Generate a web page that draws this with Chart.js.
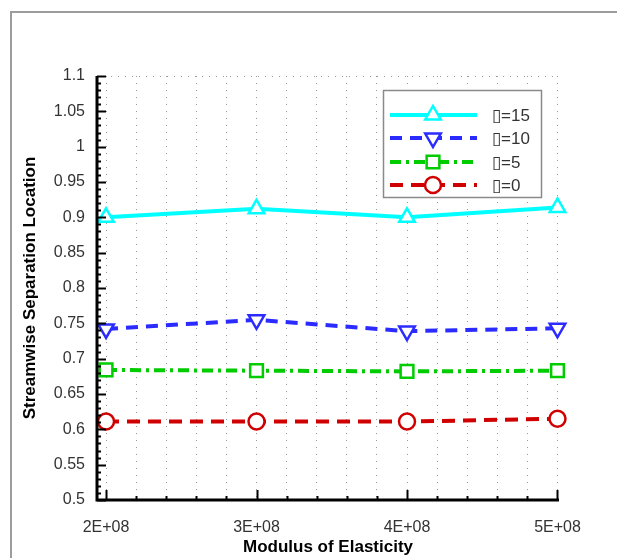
<!DOCTYPE html>
<html>
<head>
<meta charset="utf-8">
<script src="https://cdn.jsdelivr.net/npm/chart.js@4.4.0/dist/chart.umd.min.js"></script>
<style>
    html, body { margin: 0; padding: 0; background: #fff; overflow: hidden; }
    #frame { position: absolute; left: 10px; top: 11px; width: 700px; height: 700px;
             border-left: 2px solid #9c9c9c; border-top: 2px solid #9c9c9c; }
    #wrap { position: absolute; left: 0; top: 0; width: 617px; height: 558px; }
</style>
</head>
<body>
<div id="frame"></div>
<div id="wrap"><canvas id="chart" width="617" height="558"></canvas></div>
<script>
// 데이터
const xValues = [2e8, 3e8, 4e8, 5e8];
const xTickLabels = ['2E+08', '3E+08', '4E+08', '5E+08'];
const seriesNames = ['\u25AF=15', '\u25AF=10', '\u25AF=5', '\u25AF=0'];
const alpha15 = [0.900, 0.912, 0.900, 0.914];
const alpha10 = [0.742, 0.755, 0.739, 0.743];
const alpha5 = [0.684, 0.683, 0.682, 0.683];
const alpha0 = [0.611, 0.611, 0.611, 0.615];
const yTickValues = [0.5, 0.55, 0.6, 0.65, 0.7, 0.75, 0.8, 0.85, 0.9, 0.95, 1, 1.05, 1.1];
const yTickLabels = ['0.5', '0.55', '0.6', '0.65', '0.7', '0.75', '0.8', '0.85', '0.9', '0.95', '1', '1.05', '1.1'];

const X_MIN = 1.94e8, X_MAX = 5.01e8, X_MINOR = 0.2e8;
const Y_MIN = 0.5, Y_MAX = 1.1, Y_MINOR = 0.01;
const FONT = '"Liberation Sans", Arial, sans-serif';

function pts(values) {
    return values.map((v, i) => ({ x: xValues[i], y: v }));
}

const styles = [
    { color: '#00ffff', dash: [], style: 'triangle', rotation: 0, radius: 9 },
    { color: '#2b2bff', dash: [12, 8], style: 'triangle', rotation: 180, radius: 9 },
    { color: '#00cc00', dash: [11, 5, 3, 5], style: 'rect', rotation: 0, radius: 9 },
    { color: '#d10000', dash: [13, 8], style: 'circle', rotation: 0, radius: 8 }
];
const allSeries = [alpha15, alpha10, alpha5, alpha0];

const datasets = allSeries.map((s, i) => ({
    label: seriesNames[i],
    data: pts(s),
    borderColor: styles[i].color,
    borderWidth: 4,
    borderDash: styles[i].dash,
    pointStyle: styles[i].style,
    pointRotation: styles[i].rotation,
    pointRadius: styles[i].radius,
    pointBorderWidth: 2.5,
    pointBackgroundColor: '#ffffff',
    pointBorderColor: styles[i].color,
    tension: 0,
    fill: false,
    clip: false
}));

// 마커 그리기
function drawMarker(ctx, st, x, y) {
    ctx.save();
    ctx.setLineDash([]);
    ctx.lineWidth = 2.5;
    ctx.strokeStyle = st.color;
    ctx.fillStyle = '#fff';
    ctx.beginPath();
    const r = st.radius;
    if (st.style === 'circle') {
        ctx.arc(x, y, r, 0, Math.PI * 2);
    } else if (st.style === 'rect') {
        const h = r * Math.SQRT1_2;
        ctx.rect(x - h, y - h, h * 2, h * 2);
    } else {
        const dir = st.rotation === 180 ? -1 : 1;
        ctx.moveTo(x, y - dir * r);
        ctx.lineTo(x + r * 0.866, y + dir * r * 0.5);
        ctx.lineTo(x - r * 0.866, y + dir * r * 0.5);
        ctx.closePath();
    }
    ctx.fill();
    ctx.stroke();
    ctx.restore();
}

// 축선 + 눈금
const axesPlugin = {
    id: 'axesTicks',
    afterDatasetsDraw(chart) {
        const ctx = chart.ctx;
        const xs = chart.scales.x, ys = chart.scales.y;
        const a = chart.chartArea;
        ctx.save();
        ctx.strokeStyle = '#000';
        ctx.lineWidth = 2;
        for (let i = 0; ; i++) {
            const v = 2e8 + i * X_MINOR;
            if (v > X_MAX + 1) break;
            const px = Math.round(xs.getPixelForValue(v)) + 0.5;
            const major = i % 5 === 0;
            ctx.beginPath();
            ctx.moveTo(px, a.bottom);
            ctx.lineTo(px, a.bottom - (major ? 10 : 4));
            ctx.stroke();
        }
        for (let i = 0; i <= 60; i++) {
            const v = Y_MIN + i * Y_MINOR;
            const py = Math.round(ys.getPixelForValue(v)) + 0.5;
            const major = i % 5 === 0;
            ctx.beginPath();
            ctx.moveTo(a.left, py);
            ctx.lineTo(a.left + (major ? 9 : 4), py);
            ctx.stroke();
        }
        ctx.lineWidth = 3;
        ctx.beginPath();
        ctx.moveTo(a.left, a.top);
        ctx.lineTo(a.left, a.bottom);
        ctx.lineTo(a.right, a.bottom);
        ctx.stroke();
        ctx.restore();
    }
};

// 범례
const legendPlugin = {
    id: 'boxLegend',
    afterDraw(chart) {
        const ctx = chart.ctx;
        const bx = 383, by = 90, bw = 158, bh = 107;
        ctx.save();
        ctx.fillStyle = '#fff';
        ctx.fillRect(bx, by, bw, bh);
        ctx.strokeStyle = '#8a8a8a';
        ctx.lineWidth = 1.5;
        ctx.strokeRect(bx + 0.5, by + 0.5, bw, bh);
        const rowY = [115, 138, 162, 185];
        ctx.font = '17px ' + FONT;
        ctx.textBaseline = 'middle';
        datasets.forEach((ds, i) => {
            const y = rowY[i];
            ctx.strokeStyle = styles[i].color;
            ctx.lineWidth = 4;
            ctx.setLineDash(styles[i].dash);
            ctx.beginPath();
            ctx.moveTo(390, y);
            ctx.lineTo(477, y);
            ctx.stroke();
            ctx.setLineDash([]);
            drawMarker(ctx, styles[i], 433, y);
            ctx.fillStyle = '#333';
            ctx.fillText(ds.label, 492, y + 1);
        });
        ctx.restore();
    }
};

new Chart(document.getElementById('chart'), {
    type: 'line',
    data: { datasets: datasets },
    options: {
        responsive: false,
        animation: false,
        layout: { padding: { top: 76, right: 58, left: 0, bottom: 0 } },
        plugins: { legend: { display: false }, tooltip: { enabled: false } },
        scales: {
            x: {
                type: 'linear',
                min: X_MIN,
                max: X_MAX,
                border: { display: false, dash: [1, 6] },
                afterBuildTicks(scale) {
                    const t = [];
                    for (let i = 0; i <= 15; i++) t.push({ value: 2e8 + i * X_MINOR });
                    scale.ticks = t;
                },
                afterFit(scale) { scale.height = 58; },
                grid: {
                    drawTicks: false,
                    color: '#9a9a9a',
                    lineWidth: 1
                },
                ticks: {
                    autoSkip: false,
                    maxRotation: 0,
                    padding: 18,
                    color: '#333',
                    font: { family: FONT, size: 16 },
                    callback(v) {
                        const idx = xValues.findIndex(m => Math.abs(m - v) < 1);
                        return idx >= 0 ? xTickLabels[idx] : '';
                    }
                },
                title: {
                    display: true,
                    text: 'Modulus of Elasticity',
                    color: '#000',
                    padding: 0,
                    font: { family: FONT, size: 17, weight: 'bold' }
                }
            },
            y: {
                min: Y_MIN,
                max: Y_MAX,
                border: { display: false, dash: [1, 6] },
                afterBuildTicks(scale) {
                    scale.ticks = yTickValues.map(v => ({ value: v }));
                },
                afterFit(scale) { scale.width = 97; },
                grid: {
                    drawTicks: false,
                    color: ctx => (ctx.tick && Math.abs(ctx.tick.value - Y_MAX) < 1e-6) ? '#9a9a9a' : 'rgba(0,0,0,0)',
                    lineWidth: 1
                },
                ticks: {
                    padding: 12,
                    color: '#333',
                    font: { family: FONT, size: 16 },
                    callback(v, i) { return yTickLabels[i]; }
                },
                title: {
                    display: true,
                    text: 'Streamwise Separation Location',
                    color: '#000',
                    padding: { top: 20, bottom: 0 },
                    font: { family: FONT, size: 17, weight: 'bold' }
                }
            }
        }
    },
    plugins: [axesPlugin, legendPlugin]
});
</script>
</body>
</html>
